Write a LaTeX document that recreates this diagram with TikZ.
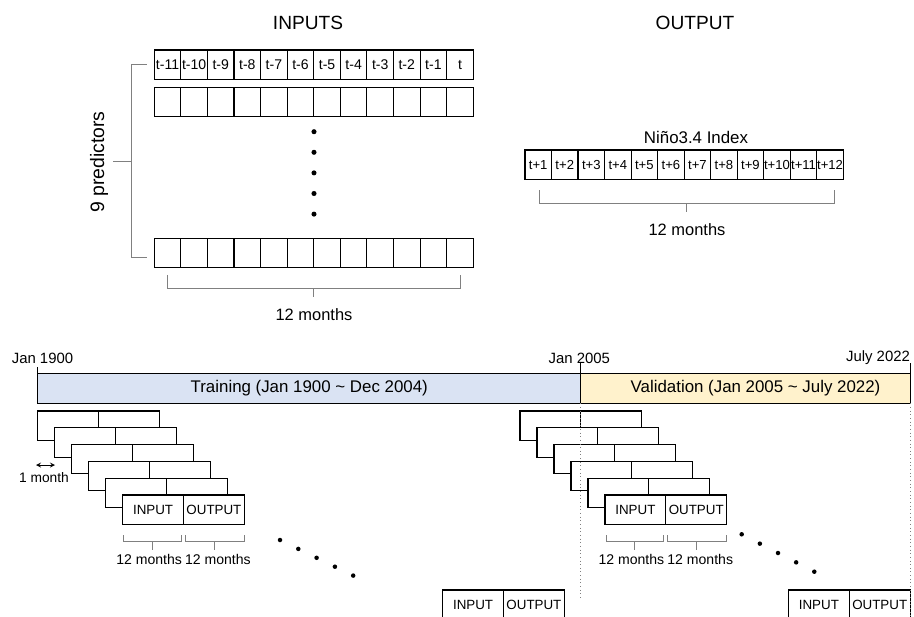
\documentclass[tikz,border=0pt]{standalone}
\usepackage{fontspec}
\setmainfont{Liberation Sans}
\usepackage{xcolor}
\usepackage{tikz}
\usetikzlibrary{positioning,calc,arrows}
\definecolor{trainblue}{RGB}{218,227,243}
\definecolor{validyellow}{RGB}{255,242,204}
\definecolor{bracketgray}{RGB}{128,128,128}
\tikzset{
    cell/.style={
        rectangle,
        draw=black,
        line width=0.8pt,
        inner sep=0pt,
        outer sep=0pt,
        minimum width=0.6645cm,
        minimum height=0.7325cm,
        font=\fontsize{10}{12}\selectfont
    },
    outcell/.style={
        cell,
        minimum width=0.663cm,
        font=\fontsize{9.3}{11}\selectfont
    },
    half/.style={
        rectangle,
        draw=black,
        fill=white,
        line width=0.8pt,
        inner sep=0pt,
        outer sep=0pt,
        minimum width=1.52cm,
        minimum height=0.7325cm,
        font=\fontsize{9.5}{11}\selectfont
    },
    bar/.style={
        rectangle,
        draw=black,
        line width=0.8pt,
        inner sep=0pt,
        outer sep=0pt,
        minimum height=0.75cm,
        font=\fontsize{12}{14}\selectfont
    },
    heading/.style={
        font=\fontsize{13.6}{16}\selectfont
    },
    bracket/.style={
        draw=bracketgray,
        line width=0.6pt
    },
    guide/.style={
        draw=bracketgray,
        dotted,
        line width=0.6pt
    }
}

\begin{document}
\begin{tikzpicture}[x=0.025cm,y=-0.025cm]
\useasboundingbox (0,0) rectangle (914,617);

% headings
\node[heading] (inputs) at (308,23) {INPUTS};
\node[heading] (outputs) at (695,23) {OUTPUT};

% input grid
\foreach \lab [count=\i] in {t-11,t-10,t-9,t-8,t-7,t-6,t-5,t-4,t-3,t-2,t-1,t}{
    \node[cell] (a\i) at ({140.99+26.58*\i},64.7) {\lab};
    \node[cell] (b\i) at ({140.99+26.58*\i},102) {};
    \node[cell] (c\i) at ({140.99+26.58*\i},253) {};
}
\foreach \k in {0,...,4}
    \fill (314,{131.7+20.6*\k}) circle (1.8pt);

\node[heading, rotate=90, font=\fontsize{13.8}{16}\selectfont] (pred) at (99,162) {9 predictors};
\draw[bracket] ($(a1.west)+(-7.6,0)$) -| ($(c1.west)+(-23.3,4)$) -- ($(c1.west)+(-7.6,4)$);
\draw[bracket] ($(a1.west)!0.5!(c1.west)+(-23.3,2.5)$) -- ++(-18.3,0);

\draw[bracket] ($(c1.south)+(0,7.3)$) |- ($(c12.south)+(0,20.6)$) -- ($(c12.south)+(0,7.3)$);
\draw[bracket] ($(c1.south)!0.5!(c12.south)+(0,20.6)$) -- ++(0,8.4);
\node[font=\fontsize{11.7}{14}\selectfont] (inmonths) at (314,315) {12 months};

% output grid
\node[font=\fontsize{12}{14}\selectfont] (nino) at (696,137) {Niño3.4 Index};
\foreach \lab [count=\i] in {t+1,t+2,t+3,t+4,t+5,t+6,t+7,t+8,t+9,t+10,t+11,t+12}
    \node[outcell] (o\i) at ({511.7+26.53*\i},164.7) {\lab};
\draw[bracket] ($(o1.south)+(1.5,10.7)$) |- ($(o12.south)+(4.5,24)$) -- ($(o12.south)+(4.5,10.7)$);
\draw[bracket] ($(o1.south)!0.5!(o12.south)+(2.5,24)$) -- ++(0,8.4);
\node[font=\fontsize{11.7}{14}\selectfont] (outmonths) at (687,230) {12 months};

% timeline
\node[bar, fill=trainblue, anchor=north west, minimum width=13.575cm] (train) at (37.7,373.3) {Training (Jan 1900 \textasciitilde{} Dec 2004)};
\node[bar, fill=validyellow, right=0pt of train, minimum width=8.2325cm] (valid) {\hspace*{0.5cm}Validation (Jan 2005 \textasciitilde{} July 2022)};
\node[font=\fontsize{10.6}{12}\selectfont] (d1900) at (42.5,358) {Jan 1900};
\node[font=\fontsize{10.6}{12}\selectfont] (d2005) at (579.3,358) {Jan 2005};
\node[font=\fontsize{10.6}{12}\selectfont] (d2022) at (878,358) {July 2022};
\draw[line width=0.6pt] (train.north west) -- ++(0,-6.6);
\draw[line width=0.6pt] (valid.north west) -- ++(0,-10);
\draw[line width=0.6pt] (valid.north east) -- ++(0,-10);

% sliding windows
\foreach \g/\x in {L/37.7,R/520}{
    \foreach \k in {0,...,4}{
        \node[half, anchor=north west] (\g-in\k) at ({\x+17*\k},{411+16.8*\k}) {};
        \node[half, anchor=north west] (\g-out\k) at (\g-in\k.north east) {};
    }
    \node[half, anchor=north west] (\g-in5) at ({\x+85},495) {INPUT};
    \node[half, anchor=north west] (\g-out5) at (\g-in5.north east) {OUTPUT};
    \draw[bracket] ($(\g-in5.south west)+(1,10.7)$) |- ($(\g-in5.south east)+(-2,17.4)$) -- ($(\g-in5.south east)+(-2,10.7)$);
    \draw[bracket] ($(\g-in5.south)+(-0.5,17.4)$) -- ++(0,8.3);
    \draw[bracket] ($(\g-out5.south west)+(1.5,10.7)$) |- ($(\g-out5.south east)+(0,17.4)$) -- ($(\g-out5.south east)+(0,10.7)$);
    \draw[bracket] ($(\g-out5.south)+(0.5,17.4)$) -- ++(0,8.3);
    \node[font=\fontsize{10}{12}\selectfont] (\g-m1) at ($(\g-in5.south)+(-4,35)$) {12 months};
    \node[font=\fontsize{10}{12}\selectfont] (\g-m2) at ($(\g-out5.south)+(4,35)$) {12 months};
}

\coordinate (mstart) at (36,465);
\draw[<->, >=stealth, line width=0.6pt] (mstart) -- ++(19,0);
\node[font=\fontsize{9.8}{12}\selectfont] (onemonth) at (44,478) {1 month};

\foreach \k in {0,...,4}{
    \fill ({280+18.3*\k},{540+8.9*\k}) circle (1.6pt);
    \fill ({741.7+18.15*\k},{534.3+9.35*\k}) circle (1.6pt);
}

% last windows
\node[half, anchor=north west] (lastLin) at (442.7,590) {INPUT};
\node[half, anchor=north west] (lastLout) at (lastLin.north east) {OUTPUT};
\node[half, anchor=north west] (lastRin) at (788.5,590) {INPUT};
\node[half, anchor=north west] (lastRout) at (lastRin.north east) {OUTPUT};

\draw[guide] (valid.south west) -- ++(0,197);
\draw[guide] (valid.south east) -- ++(0,214);
\end{tikzpicture}
\end{document}
